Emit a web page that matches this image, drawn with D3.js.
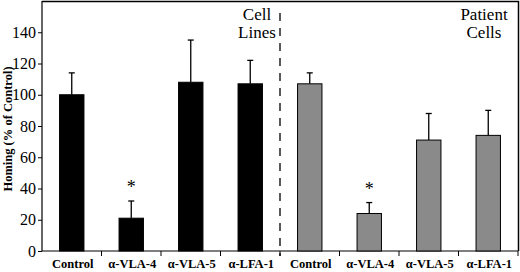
<!DOCTYPE html>
<html>
<head>
<meta charset="utf-8">
<script src="https://cdn.jsdelivr.net/npm/d3@7"></script>
<style>
  body { margin: 0; background: #fff; }
</style>
</head>
<body>
<div id="chart"></div>
<script>
// data
var categories = ["Control", "α-VLA-4", "α-VLA-5", "α-LFA-1"];
var cellLineValues = [100, 21, 108, 107];
var cellLineErrors = [114, 32, 135, 122];
var patientValues = [107, 24, 71, 74];
var patientErrors = [114, 31, 88, 90];
var yTicks = [0, 20, 40, 60, 80, 100, 120, 140];
var starred = [false, true, false, false];

var FONT = "Liberation Serif";

var width = 520, height = 272;
var margin = {top: 1, right: 2, bottom: 21, left: 42};

var svg = d3.select("#chart").append("svg")
  .attr("width", width)
  .attr("height", height)
  .attr("font-family", FONT);

var keys = [];
var bars = [];
categories.forEach(function(c, i) {
  keys.push("cl" + i);
  bars.push({key: "cl" + i, label: c, value: cellLineValues[i], err: cellLineErrors[i], fill: "#000", star: starred[i]});
});
categories.forEach(function(c, i) {
  keys.push("pt" + i);
  bars.push({key: "pt" + i, label: c, value: patientValues[i], err: patientErrors[i], fill: "#8a8a8a", star: starred[i]});
});

var x = d3.scaleBand()
  .domain(keys)
  .range([margin.left, width - margin.right])
  .paddingInner(0.59)
  .paddingOuter(0.295);

var band = d3.scaleBand().domain(keys).range([margin.left, width - margin.right]);

var y = d3.scaleLinear()
  .domain([0, 160])
  .range([height - margin.bottom, margin.top]);

// frame top and right
svg.append("path")
  .attr("d", "M" + margin.left + "," + (margin.top + 0.5) + "H" + (width - margin.right + 0.5) + "V" + y(0))
  .attr("fill", "none")
  .attr("stroke", "#000")
  .attr("stroke-width", 1.5);

// y axis
var yAxis = svg.append("g")
  .attr("transform", "translate(" + margin.left + ",0)")
  .call(d3.axisLeft(y).tickValues(yTicks).tickSize(4).tickPadding(2));
yAxis.attr("font-family", FONT).attr("font-size", 16);
yAxis.select(".domain").attr("d", "M0," + y(0) + "V" + margin.top).attr("stroke-width", 1.2);
yAxis.selectAll("text").attr("font-family", FONT).attr("font-size", 16).attr("fill", "#000");

// x axis with ticks at band boundaries
var bottom = svg.append("g").attr("transform", "translate(0," + y(0) + ")");
bottom.append("line")
  .attr("x1", margin.left).attr("x2", width - margin.right)
  .attr("stroke", "#000").attr("stroke-width", 1.2);
bottom.selectAll("line.tick")
  .data(keys.slice(1).concat(["end"]))
  .enter().append("line")
  .attr("class", "tick")
  .attr("x1", function(d) { return d === "end" ? width - margin.right : band(d); })
  .attr("x2", function(d) { return d === "end" ? width - margin.right : band(d); })
  .attr("y1", 0).attr("y2", 5)
  .attr("stroke", "#000");

bottom.selectAll("text")
  .data(bars)
  .enter().append("text")
  .attr("x", function(d) { return band(d.key) + band.bandwidth() / 2 + 1; })
  .attr("y", 17)
  .attr("text-anchor", "middle")
  .attr("font-family", FONT)
  .attr("font-size", 12.5)
  .attr("font-weight", "bold")
  .text(function(d) { return d.label; });

// error bars
svg.selectAll("g.err")
  .data(bars)
  .enter().append("g")
  .attr("class", "err")
  .each(function(d) {
    var g = d3.select(this);
    var cx = x(d.key) + x.bandwidth() / 2;
    g.append("line").attr("x1", cx).attr("x2", cx)
      .attr("y1", y(d.value)).attr("y2", y(d.err))
      .attr("stroke", "#000").attr("stroke-width", 1.3);
    g.append("line").attr("x1", cx - 3).attr("x2", cx + 3)
      .attr("y1", y(d.err)).attr("y2", y(d.err))
      .attr("stroke", "#000").attr("stroke-width", 1.3);
  });

// bars
svg.selectAll("rect.bar")
  .data(bars)
  .enter().append("rect")
  .attr("class", "bar")
  .attr("x", function(d) { return x(d.key); })
  .attr("width", x.bandwidth())
  .attr("y", function(d) { return y(d.value); })
  .attr("height", function(d) { return y(0) - y(d.value); })
  .attr("fill", function(d) { return d.fill; })
  .attr("stroke", "#000")
  .attr("stroke-width", 1);

// significance stars
svg.selectAll("text.star")
  .data(bars.filter(function(d) { return d.star; }))
  .enter().append("text")
  .attr("class", "star")
  .attr("x", function(d) { return x(d.key) + x.bandwidth() / 2; })
  .attr("y", function(d) { return y(d.err) - 8; })
  .attr("text-anchor", "middle")
  .attr("font-family", FONT)
  .attr("font-size", 18)
  .text("*");

// dashed divider between the two groups
var divX = band("pt0");
svg.append("line")
  .attr("x1", divX).attr("x2", divX)
  .attr("y1", 13).attr("y2", y(0) + 5)
  .attr("stroke", "#000")
  .attr("stroke-width", 1.3)
  .attr("stroke-dasharray", "8,7");

// group titles
function groupTitle(lines, cx) {
  svg.append("text")
    .attr("text-anchor", "middle")
    .attr("font-family", FONT)
    .attr("font-size", 17)
    .selectAll("tspan")
    .data(lines)
    .enter().append("tspan")
    .attr("x", cx)
    .attr("y", function(d, i) { return 20 + i * 18; })
    .text(function(d) { return d; });
}
groupTitle(["Cell", "Lines"], 257);
groupTitle(["Patient", "Cells"], 484);

// y label
svg.append("text")
  .attr("transform", "translate(12," + ((y(0) + margin.top) / 2 + 3) + ") rotate(-90)")
  .attr("text-anchor", "middle")
  .attr("font-family", FONT)
  .attr("font-size", 12.5)
  .attr("font-weight", "bold")
  .text("Homing (% of Control)");
</script>
</body>
</html>
